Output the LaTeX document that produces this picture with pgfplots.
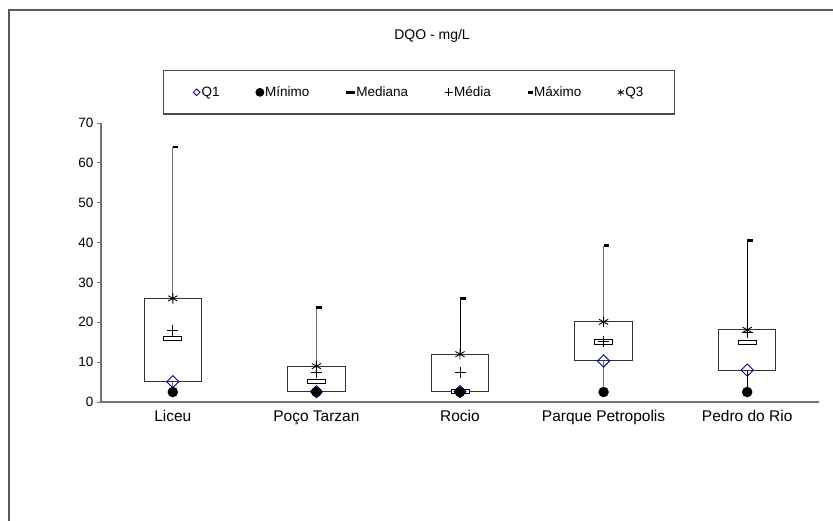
\documentclass[border=0pt]{standalone}
\usepackage{pgfplots}
\usepackage{pgfplotstable}
\usepgfplotslibrary{statistics}
\pgfplotsset{compat=1.18}
\usepackage{fontspec}
\setmainfont{Liberation Sans}

% marks used by the chart
\pgfdeclareplotmark{medrect}{%
  \pgfpathrectangle{\pgfqpoint{-9pt}{-2.2pt}}{\pgfqpoint{18pt}{4.4pt}}%
  \pgfusepathqfillstroke}
\pgfdeclareplotmark{maxdash}{%
  \pgfpathrectangle{\pgfqpoint{0pt}{-1.4pt}}{\pgfqpoint{5.5pt}{2.8pt}}%
  \pgfusepathqfill}
\pgfdeclareplotmark{legmed}{%
  \pgfpathrectangle{\pgfqpoint{-4.5pt}{-1.6pt}}{\pgfqpoint{9pt}{3.2pt}}%
  \pgfusepathqfill}
\pgfdeclareplotmark{legmax}{%
  \pgfpathrectangle{\pgfqpoint{-2.5pt}{-1.4pt}}{\pgfqpoint{5pt}{2.8pt}}%
  \pgfusepathqfill}

\definecolor{qblue}{RGB}{0,0,160}

% x = draw position, one row per site
\pgfplotstableread{
x   q1    min  med   mean  max   q3
0.5 5.1   2.5  16.0  18.0  64.0  26.0
1.5 2.6   2.5  5.1   7.4   23.7  9.0
2.5 2.6   2.5  2.6   7.4   26.0  12.0
3.5 10.3  2.5  15.1  15.2  39.2  20.1
4.5 8.0   2.5  15.0  17.4  40.6  18.1
}\datatable

\begin{document}
\begin{tikzpicture}[x=1pt,y=1pt]
\useasboundingbox (0,0) rectangle (833,520);
\draw[black!65, line width=1.5pt] (9,-10) -- (9,510) -- (845,510);
\node[font=\fontsize{14}{16}\selectfont] at (432,484) {DQO - mg/L};

\begin{axis}[
    at={(101pt,118pt)}, anchor=south west,
    scale only axis, width=718pt, height=279pt,
    xmin=0, xmax=5, ymin=0, ymax=70,
    axis lines=left,
    axis line style={-, draw=black!55, line width=1.2pt},
    clip=false,
    xtick={0.5,1.5,2.5,3.5,4.5},
    xticklabels={Liceu, Poço Tarzan, Rocio, Parque Petropolis, Pedro do Rio},
    x tick style={draw=none},
    extra x ticks={1,2,3,4,5},
    extra x tick labels={},
    extra x tick style={tick style={draw=black!55, line width=1pt}},
    ytick={0,10,...,70},
    y tick style={draw=black!55, line width=1pt},
    tick align=outside,
    major tick length=4pt,
    /pgf/number format/assume math mode=true,
    yticklabel style={font=\fontsize{13.5}{15}\selectfont},
    xticklabel style={font=\fontsize{15.5}{18}\selectfont, yshift=-1pt},
    boxplot/draw direction=y,
    boxplot/every median/.style={draw=none},
    boxplot/every whisker/.style={draw=black!55, line width=1.1pt},
    boxplot/every box/.style={draw=black!80, fill=white, line width=0.9pt},
    legend columns=6,
    legend style={
        at={(0.443,1.11)}, anchor=center,
        draw=black!70, line width=1.2pt,
        inner xsep=30pt, inner ysep=14pt,
        font=\fontsize{13.5}{15}\selectfont,
        nodes={inner xsep=1.5pt},
        /tikz/every even column/.append style={column sep=35pt},
    },
    legend image code/.code={\draw[#1] plot coordinates {(4pt,0pt)};},
]

% boxes and whiskers: lower whisker, Q1, median, Q3, upper whisker
\addplot[forget plot, boxplot prepared={draw position=0.5, box extend=0.4, whisker extend=0,
    lower whisker=2.5, lower quartile=5.1, median=16.0, upper quartile=26.0, upper whisker=64.0}]
    coordinates {};
\addplot[forget plot, boxplot prepared={draw position=1.5, box extend=0.4, whisker extend=0,
    lower whisker=2.5, lower quartile=2.6, median=5.1, upper quartile=9.0, upper whisker=23.7}]
    coordinates {};
\addplot[forget plot, boxplot/every whisker/.style={draw=black, line width=0.9pt},
    boxplot prepared={draw position=2.5, box extend=0.4, whisker extend=0,
    lower whisker=2.5, lower quartile=2.6, median=2.6, upper quartile=12.0, upper whisker=26.0}]
    coordinates {};
\addplot[forget plot, boxplot prepared={draw position=3.5, box extend=0.4, whisker extend=0,
    lower whisker=2.5, lower quartile=10.3, median=15.1, upper quartile=20.1, upper whisker=39.2}]
    coordinates {};
\addplot[forget plot, boxplot/every whisker/.style={draw=black, line width=0.9pt},
    boxplot prepared={draw position=4.5, box extend=0.4, whisker extend=0,
    lower whisker=2.5, lower quartile=8.0, median=15.0, upper quartile=18.1, upper whisker=40.6}]
    coordinates {};

% markers
\addplot[forget plot, only marks, mark=maxdash, black] table[x=x, y=max] {\datatable};
\addplot[forget plot, only marks, mark=medrect, draw=black, fill=white, line width=0.8pt] table[x=x, y=med] {\datatable};
\addplot[forget plot, only marks, mark=+, mark size=5.5pt, black, line width=0.9pt] table[x=x, y=mean] {\datatable};
\addplot[forget plot, only marks, mark=asterisk, mark size=5.3pt, black, line width=0.9pt] table[x=x, y=q3] {\datatable};
\addplot[forget plot, only marks, mark=square, mark size=4.3pt, mark options={rotate=45, draw=qblue, fill=white, line width=0.9pt}] table[x=x, y=q1] {\datatable};
\addplot[forget plot, only marks, mark=*, mark size=5pt, black] table[x=x, y=min] {\datatable};

% legend
\addlegendimage{only marks, mark=square, mark size=2.4pt, mark options={rotate=45, draw=qblue, fill=white, line width=0.8pt}}
\addlegendentry{Q1}
\addlegendimage{only marks, mark=*, mark size=3.8pt, black}
\addlegendentry{Mínimo}
\addlegendimage{only marks, mark=legmed, black}
\addlegendentry{Mediana}
\addlegendimage{only marks, mark=+, mark size=4pt, black, line width=0.8pt}
\addlegendentry{Média}
\addlegendimage{only marks, mark=legmax, black}
\addlegendentry{Máximo}
\addlegendimage{only marks, mark=asterisk, mark size=3.5pt, black, line width=0.8pt}
\addlegendentry{Q3}
\end{axis}
\end{tikzpicture}
\end{document}
